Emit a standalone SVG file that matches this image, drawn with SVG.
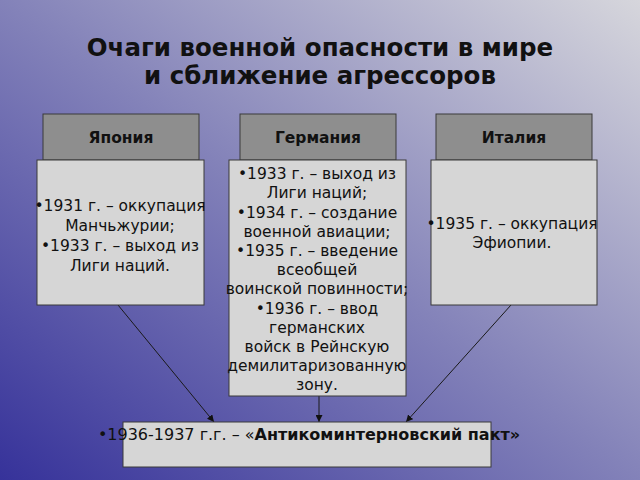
<svg xmlns="http://www.w3.org/2000/svg" width="640" height="480" viewBox="0 0 640 480">
<defs>
<linearGradient id="bg" x1="0" y1="1" x2="1" y2="0">
<stop offset="0" stop-color="#36329a"/>
<stop offset="0.5" stop-color="#8382b9"/>
<stop offset="1" stop-color="#d6d6dc"/>
</linearGradient>
<marker id="arr" viewBox="0 0 10 10" refX="10" refY="5" markerWidth="7" markerHeight="7" orient="auto" markerUnits="userSpaceOnUse">
<path d="M0,0 L10,5 L0,10 z" fill="#111"/>
</marker>
<style>
.hd{fill:#8e8e8e;stroke:#3a3a3a;stroke-width:1}
.bx{fill:#d6d6d6;stroke:#3a3a3a;stroke-width:1}
.t{font-family:"DejaVu Sans",sans-serif;font-size:15.5px;fill:#111;text-anchor:middle}
.h{font-family:"DejaVu Sans",sans-serif;font-size:15.5px;font-weight:bold;fill:#111;text-anchor:middle}
.ti{font-family:"DejaVu Sans",sans-serif;font-size:24.5px;font-weight:bold;fill:#111;text-anchor:middle}
.c{stroke:#1a1a1a;stroke-width:1;fill:none;marker-end:url(#arr)}
</style>
</defs>
<rect width="640" height="480" fill="url(#bg)"/>
<g id="title">
<text class="ti" x="320" y="56">Очаги военной опасности в мире</text>
<text class="ti" x="320" y="84">и сближение агрессоров</text>
</g>
<g id="connectors">
<line class="c" x1="118" y1="305" x2="214" y2="422"/>
<line class="c" x1="319" y1="396" x2="319" y2="422"/>
<line class="c" x1="511" y1="305" x2="406" y2="422"/>
</g>
<g id="japan">
<rect class="hd" x="43" y="114" width="156" height="46"/>
<text class="h" x="121" y="143">Япония</text>
<rect class="bx" x="37" y="160" width="167" height="145"/>
<text class="t" x="120" y="211">•1931 г. – оккупация</text>
<text class="t" x="120" y="231">Манчьжурии;</text>
<text class="t" x="120" y="251">•1933 г. – выход из</text>
<text class="t" x="120" y="271">Лиги наций.</text>
</g>
<g id="germany">
<rect class="hd" x="240" y="114" width="156" height="46"/>
<text class="h" x="318" y="143">Германия</text>
<rect class="bx" x="229" y="160" width="177" height="236"/>
<text class="t" x="317" y="179">•1933 г. – выход из</text>
<text class="t" x="317" y="198">Лиги наций;</text>
<text class="t" x="317" y="218">•1934 г.  – создание</text>
<text class="t" x="317" y="237">военной авиации;</text>
<text class="t" x="317" y="256">•1935 г. – введение</text>
<text class="t" x="317" y="275">всеобщей</text>
<text class="t" x="317" y="294">воинской повинности;</text>
<text class="t" x="317" y="314">•1936 г. – ввод</text>
<text class="t" x="317" y="333">германских</text>
<text class="t" x="317" y="352">войск в Рейнскую</text>
<text class="t" x="317" y="371">демилитаризованную</text>
<text class="t" x="317" y="390">зону.</text>
</g>
<g id="italy">
<rect class="hd" x="436" y="114" width="156" height="46"/>
<text class="h" x="514" y="143">Италия</text>
<rect class="bx" x="431" y="160" width="166" height="145"/>
<text class="t" x="512" y="229">•1935 г. – оккупация</text>
<text class="t" x="512" y="248">Эфиопии.</text>
</g>
<g id="pact">
<rect class="bx" x="123" y="422" width="368" height="45"/>
<text class="t" x="309" y="440" style="font-size:16px">•1936-1937 г.г. – «<tspan font-weight="bold">Антикоминтерновский пакт»</tspan></text>
</g>
</svg>
